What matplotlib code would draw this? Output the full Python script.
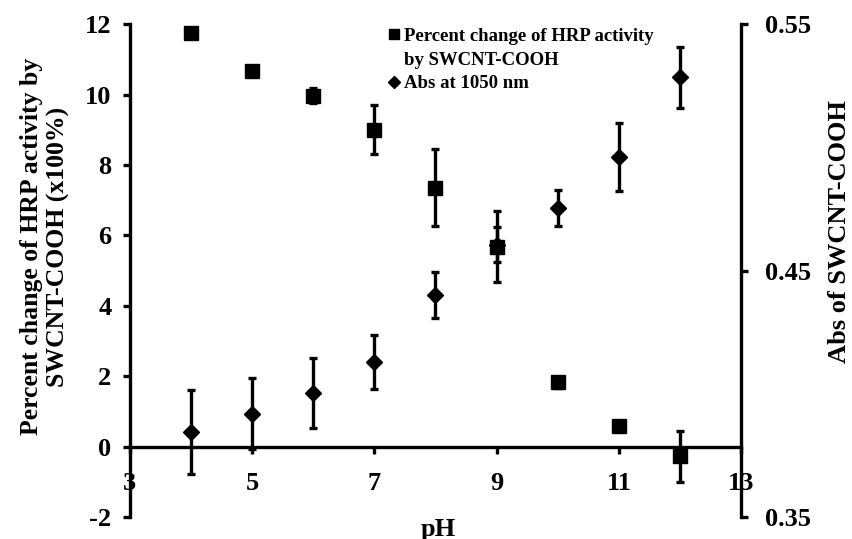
import matplotlib
matplotlib.use('Agg')
import matplotlib.pyplot as plt
from matplotlib.lines import Line2D

# --- data ---
ph = [4, 5, 6, 7, 8, 9, 10, 11, 12]
pct_change = [11.76, 10.68, 9.97, 9.0, 7.36, 5.68, 1.82, 0.57, -0.28]
pct_err = [0.0, 0.0, 0.22, 0.7, 1.1, 1.0, 0.15, 0.0, 0.72]
absorb = [0.3845, 0.3918, 0.4003, 0.4129, 0.4401, 0.4605, 0.4754, 0.4960, 0.5285]
abs_err = [0.017, 0.0144, 0.0144, 0.011, 0.0093, 0.007, 0.0075, 0.0138, 0.0124]

plt.rcParams['font.family'] = ['Liberation Serif', 'DejaVu Serif']
plt.rcParams['font.weight'] = 'bold'
plt.rcParams['axes.unicode_minus'] = False

fig = plt.figure(figsize=(8.53, 5.39), dpi=100)
ax = fig.add_axes([0.152, 0.041, 0.717, 0.914])
ax2 = ax.twinx()
# squares sit on top of the diamonds
ax.set_zorder(2)
ax.patch.set_visible(False)

ebkw = dict(ls='none', color='black', ecolor='black', elinewidth=2.4,
            capsize=3, capthick=2.4)
l1 = ax.errorbar(ph, pct_change, yerr=pct_err, marker='s', markersize=10, **ebkw)
l2 = ax2.errorbar(ph, absorb, yerr=abs_err, marker='D', markersize=8, **ebkw)

ax.set_xlim(3, 13)
ax.set_ylim(-2, 12)
ax2.set_ylim(0.35, 0.55)
ax.set_xticks([3, 5, 7, 9, 11, 13])
ax.set_yticks(range(-2, 13, 2))
ax2.set_yticks([0.35, 0.45, 0.55])
ax2.set_yticklabels(['0.35', '0.45', '0.55'])

for a in (ax, ax2):
    a.spines['top'].set_visible(False)
    for s in a.spines.values():
        s.set_linewidth(2.4)
ax.spines['right'].set_visible(False)
ax2.spines['left'].set_visible(False)
ax2.spines['bottom'].set_visible(False)
ax.spines['bottom'].set_position(('data', 0))

ax.tick_params(axis='both', width=2.4, length=5, labelsize=19, direction='out')
ax.tick_params(axis='x', pad=13)
ax.tick_params(axis='y', pad=8)
ax2.tick_params(axis='y', width=2.4, length=5, labelsize=19, direction='out', pad=12)

ax.set_ylabel('Percent change of HRP activity by\nSWCNT-COOH (x100%)',
              fontsize=18.5, fontweight='bold')
ax.yaxis.set_label_coords(-0.097, 0.548)
ax2.set_ylabel('Abs of SWCNT-COOH', fontsize=19, fontweight='bold')
ax2.yaxis.set_label_coords(1.142, 0.58)
ax.text(8.05, -2.35, 'pH', ha='center', va='center', fontsize=19, fontweight='bold')

# first legend entry wraps onto a second line, so give that line a blank handle
blank = Line2D([], [], ls='none', marker='none')
ax.legend([l1[0], blank, l2[0]],
          ['Percent change of HRP activity', 'by SWCNT-COOH', 'Abs at 1050 nm'],
          loc='upper left', bbox_to_anchor=(0.411, 1.012), frameon=False,
          borderpad=0, fontsize=13.5, handlelength=0.4, handletextpad=0.35,
          markerscale=0.75, labelspacing=0.35)

fig.savefig('out.png', dpi=100)
